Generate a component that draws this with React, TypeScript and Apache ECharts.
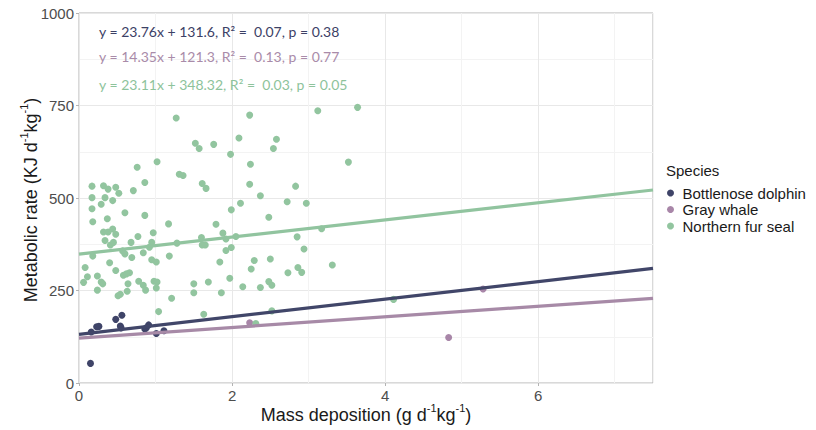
import React, { useEffect, useRef } from "react";
import * as echarts from "echarts";

// ---- Data ----
const dolphinX = [0.15, 0.16, 0.23, 0.26, 0.48, 0.56, 0.54, 0.55, 0.91, 0.88, 0.86, 1.01, 1.11];
const dolphinY = [53, 138, 152, 153, 172, 183, 154, 149, 157, 149, 146, 134, 141];

const whaleX = [2.23, 5.28, 4.83];
const whaleY = [163, 254, 123];

const sealX = [
  1.27, 2.23, 3.12, 3.64, 1.52, 1.57, 1.76, 2.09, 2.58, 2.54, 1.98, 1.02, 0.76, 1.31, 1.36, 2.24,
  3.52, 0.86, 1.61, 1.66, 2.23, 2.83, 0.17, 0.32, 0.38, 0.48, 0.52, 0.71, 0.17, 0.34, 0.44, 0.29,
  0.17, 2.37, 2.11, 1.99, 2.72, 2.97, 0.18, 0.37, 0.6, 0.86, 2.48, 1.17, 1.79, 1.88, 2.05, 0.32,
  0.38, 0.44, 0.48, 0.77, 0.97, 1.6, 2.85, 3.17, 1.92, 0.34, 0.41, 0.45, 0.68, 0.95, 0.92, 0.57,
  0.6, 0.84, 0.18, 0.69, 0.95, 1.01, 1.18, 0.4, 0.08, 0.48, 0.11, 0.24, 0.58, 0.66, 0.62, 0.06,
  0.29, 0.31, 0.64, 0.78, 0.98, 1.02, 0.84, 0.24, 0.63, 0.87, 1.01, 0.51, 0.54, 1.21, 1.04, 1.5,
  1.5, 1.63, 1.69, 1.86, 1.97, 2.14, 2.37, 2.31, 2.25, 2.29, 1.84, 1.92, 1.99, 1.61, 1.65, 1.28,
  2.48, 2.94, 2.5, 3.31, 2.73, 2.86, 2.91, 2.52, 4.11, 2.52,
];
const sealY = [
  716, 724, 736, 745, 648, 634, 645, 662, 659, 634, 618, 598, 583, 564, 561, 591,
  597, 542, 539, 526, 537, 532, 532, 533, 524, 529, 513, 520, 501, 501, 493, 483,
  471, 506, 486, 468, 490, 486, 436, 444, 460, 453, 448, 430, 429, 405, 396, 408,
  408, 416, 402, 396, 406, 393, 395, 417, 389, 385, 373, 380, 380, 380, 367, 357,
  349, 352, 343, 339, 333, 327, 343, 325, 312, 304, 287, 289, 291, 298, 295, 272,
  273, 268, 268, 275, 275, 273, 264, 251, 248, 251, 257, 236, 240, 229, 193, 268,
  244, 186, 273, 244, 283, 260, 258, 161, 308, 331, 327, 358, 366, 373, 373, 378,
  274, 362, 335, 319, 298, 312, 299, 264, 226, 195,
];

const speciesNames = ["Bottlenose dolphin", "Gray whale", "Northern fur seal"];
const slopes = [23.76, 14.35, 23.11];
const intercepts = [131.6, 121.3, 348.32];
const equationLabels = [
  "y = 23.76x + 131.6, R² =  0.07, p = 0.38",
  "y = 14.35x + 121.3, R² =  0.13, p = 0.77",
  "y = 23.11x + 348.32, R² =  0.03, p = 0.05",
];
const xTicks = [0, 2, 4, 6];
const xRange = [0, 7.5];

const pointColors = ["#3f4468", "#a886a8", "#92c59f"];
const lineColors = ["#414669", "#a78aa7", "#91c49f"];
const textColors = ["#3c4166", "#a98ba9", "#8dc39b"];

const zip = (xs: number[], ys: number[]) => xs.map((x, i) => [x, ys[i]]);

export default function App() {
  const ref = useRef<HTMLDivElement>(null);
  useEffect(() => {
    if (!ref.current) return;
    const chart = echarts.init(ref.current, undefined, { renderer: "svg" });
    const font = "Liberation Sans";
    const scatterSets = [zip(dolphinX, dolphinY), zip(whaleX, whaleY), zip(sealX, sealY)];
    const scatterSeries = speciesNames.map((name, i) => ({
      name,
      type: "scatter",
      data: scatterSets[i],
      symbolSize: 7,
      itemStyle: { color: pointColors[i], opacity: 1 },
      xAxisIndex: 1,
      yAxisIndex: 0,
      z: 2,
    }));
    const lineSeries = speciesNames.map((name, i) => ({
      name: name + " fit",
      type: "line",
      data: xRange.map((x) => [x, intercepts[i] + slopes[i] * x]),
      showSymbol: false,
      symbol: "none",
      lineStyle: { color: lineColors[i], width: 3.2 },
      xAxisIndex: 1,
      yAxisIndex: 0,
      z: 3,
      silent: true,
    }));
    const supRich = {
      n: { fontSize: 18, fontFamily: font, fill: "#1a1a1a", color: "#1a1a1a", lineHeight: 22, verticalAlign: "bottom" },
      s: { fontSize: 11, fontFamily: font, fill: "#1a1a1a", color: "#1a1a1a", lineHeight: 22, verticalAlign: "top", padding: [0, 0, 0, 0] },
    };
    const option: any = {
      animation: false,
      backgroundColor: "#ffffff",
      grid: {
        left: 79,
        right: 163,
        top: 13,
        bottom: 47,
        show: true,
        borderColor: "#b3b3b3",
        borderWidth: 1,
        backgroundColor: "transparent",
      },
      xAxis: [
        {
          type: "value",
          min: xRange[0],
          max: xRange[1],
          interval: 1,
          position: "bottom",
          axisLine: { show: false },
          axisTick: { show: false },
          axisLabel: { show: false },
          splitLine: { show: true, lineStyle: { color: "#f3f3f3", width: 1 } },
        },
        {
          type: "value",
          min: xRange[0],
          max: xRange[1],
          interval: 2,
          position: "bottom",
          axisLine: { show: false },
          axisTick: { show: true, length: 3, lineStyle: { color: "#b3b3b3" }, customValues: xTicks },
          axisLabel: {
            color: "#4d4d4d",
            fontSize: 15,
            fontFamily: font,
            margin: 5,
            customValues: xTicks,
          },
          splitLine: { show: true, lineStyle: { color: "#e8e8e8", width: 1 } },
        },
      ],
      yAxis: {
        type: "value",
        min: 0,
        max: 1000,
        interval: 250,
        axisLine: { show: false },
        axisTick: { show: true, length: 3, lineStyle: { color: "#b3b3b3" } },
        axisLabel: {
          color: "#4d4d4d",
          fontSize: 15,
          fontFamily: font,
          margin: 5,
          formatter: (v: number) => String(v),
        },
        splitLine: { show: true, lineStyle: { color: "#e8e8e8", width: 1 } },
        minorTick: { show: false, splitNumber: 2 },
        minorSplitLine: { show: true, lineStyle: { color: "#f3f3f3", width: 1 } },
      },
      legend: {
        data: speciesNames,
        orient: "vertical",
        left: 667,
        top: 185.5,
        icon: "circle",
        itemWidth: 14,
        itemHeight: 7,
        itemGap: 1.5,
        padding: 0,
        textStyle: { fontSize: 15, fontFamily: font, color: "#1a1a1a", lineHeight: 15 },
        selectedMode: false,
      },
      series: [...scatterSeries, ...lineSeries],
      graphic: [
        ...equationLabels.map((t, i) => ({
          type: "text",
          left: 99,
          top: [24, 49, 77][i],
          z: 100,
          style: {
            text: t,
            fill: textColors[i],
            font: "14px Lato",
          },
        })),
        {
          type: "text",
          left: 666,
          top: 163,
          z: 100,
          style: { text: "Species", fill: "#1a1a1a", font: "15px 'Liberation Sans'" },
        },
        {
          type: "text",
          x: 366,
          y: 413,
          z: 100,
          style: {
            text: "{n|Mass deposition (g d}{s|-1}{n|kg}{s|-1}{n|)}",
            rich: supRich,
            align: "center",
            verticalAlign: "middle",
          },
        },
        {
          type: "text",
          x: 29,
          y: 200,
          rotation: Math.PI / 2,
          z: 100,
          style: {
            text: "{n|Metabolic rate (KJ d}{s|-1}{n|kg}{s|-1}{n|)}",
            rich: supRich,
            align: "center",
            verticalAlign: "middle",
          },
        },
      ],
    };
    chart.setOption(option);
    return () => chart.dispose();
  }, []);
  return <div ref={ref} style={{ width: 816, height: 430, position: "absolute", left: 0, top: 0 }} />;
}
